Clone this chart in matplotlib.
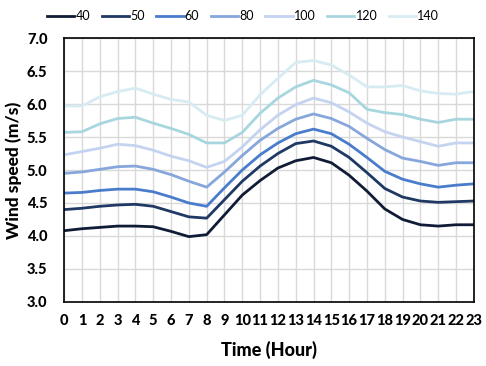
import matplotlib.pyplot as plt

plt.rcParams['font.family'] = ['Lato', 'DejaVu Sans']

hours = list(range(24))
heights = ["40", "50", "60", "80", "100", "120", "140"]

ws_40 = [4.08, 4.11, 4.13, 4.15, 4.15, 4.14, 4.07, 3.99, 4.02, 4.32, 4.62, 4.84, 5.03, 5.14, 5.19, 5.11, 4.92, 4.68, 4.41, 4.25, 4.17, 4.15, 4.17, 4.17]
ws_50 = [4.40, 4.42, 4.45, 4.47, 4.48, 4.45, 4.37, 4.29, 4.27, 4.55, 4.83, 5.06, 5.25, 5.40, 5.44, 5.36, 5.19, 4.96, 4.72, 4.59, 4.53, 4.51, 4.52, 4.53]
ws_60 = [4.65, 4.66, 4.69, 4.71, 4.71, 4.67, 4.59, 4.50, 4.45, 4.73, 5.00, 5.23, 5.41, 5.55, 5.62, 5.55, 5.39, 5.19, 4.98, 4.86, 4.79, 4.74, 4.77, 4.79]
ws_80 = [4.95, 4.97, 5.01, 5.05, 5.06, 5.01, 4.93, 4.83, 4.74, 4.97, 5.22, 5.45, 5.63, 5.77, 5.85, 5.78, 5.66, 5.48, 5.31, 5.18, 5.13, 5.07, 5.11, 5.11]
ws_100 = [5.23, 5.28, 5.33, 5.39, 5.37, 5.30, 5.21, 5.14, 5.04, 5.13, 5.35, 5.61, 5.83, 5.99, 6.09, 6.02, 5.88, 5.71, 5.58, 5.50, 5.43, 5.36, 5.41, 5.41]
ws_120 = [5.57, 5.58, 5.70, 5.78, 5.80, 5.71, 5.63, 5.54, 5.41, 5.41, 5.57, 5.86, 6.09, 6.26, 6.36, 6.29, 6.17, 5.92, 5.87, 5.84, 5.77, 5.72, 5.77, 5.77]
ws_140 = [5.97, 5.97, 6.11, 6.19, 6.24, 6.15, 6.07, 6.03, 5.83, 5.75, 5.83, 6.14, 6.39, 6.63, 6.66, 6.59, 6.44, 6.26, 6.26, 6.28, 6.20, 6.16, 6.15, 6.19]

series = [ws_40, ws_50, ws_60, ws_80, ws_100, ws_120, ws_140]
colors = ["#101c36", "#1f3864", "#4a7ccc", "#86a6dc", "#c4d3ef", "#a8d6df", "#d6ecf2"]

fig = plt.figure(figsize=(4.86, 3.66), dpi=100)
ax = fig.add_axes([0.132, 0.175, 0.843, 0.721])

for name, vals, c in zip(heights, series, colors):
    ax.plot(hours, vals, color=c, linewidth=2.0, label=name)

ax.set_xlim(0, 23)
ax.set_ylim(3.0, 7.0)
ax.set_xticks(hours)
ax.set_yticks([3.0 + 0.5 * i for i in range(9)])
ax.set_yticklabels(["%.1f" % (3.0 + 0.5 * i) for i in range(9)])
ax.grid(True, color="#d9d9d9", linewidth=1.0)
ax.set_axisbelow(True)
ax.tick_params(axis="x", length=0, labelsize=10.5, pad=9)
ax.tick_params(axis="y", length=0, labelsize=10.5, pad=12)
for lbl in ax.get_xticklabels() + ax.get_yticklabels():
    lbl.set_fontweight("black")
for s in ax.spines.values():
    s.set_color("black")
    s.set_linewidth(1.2)

ax.set_xlabel("Time (Hour)", fontsize=13, fontweight="black", labelpad=9)
ax.set_ylabel("Wind speed (m/s)", fontsize=12.5, fontweight="black")
ax.yaxis.set_label_coords(-0.102, 0.5)

fig.legend(loc="upper center", bbox_to_anchor=(0.5, 1.0), ncol=7, frameon=False,
           fontsize=9, handlelength=2.2, handletextpad=0.1, columnspacing=0.9,
           borderpad=0.3)

fig.savefig("out.png", dpi=100)
